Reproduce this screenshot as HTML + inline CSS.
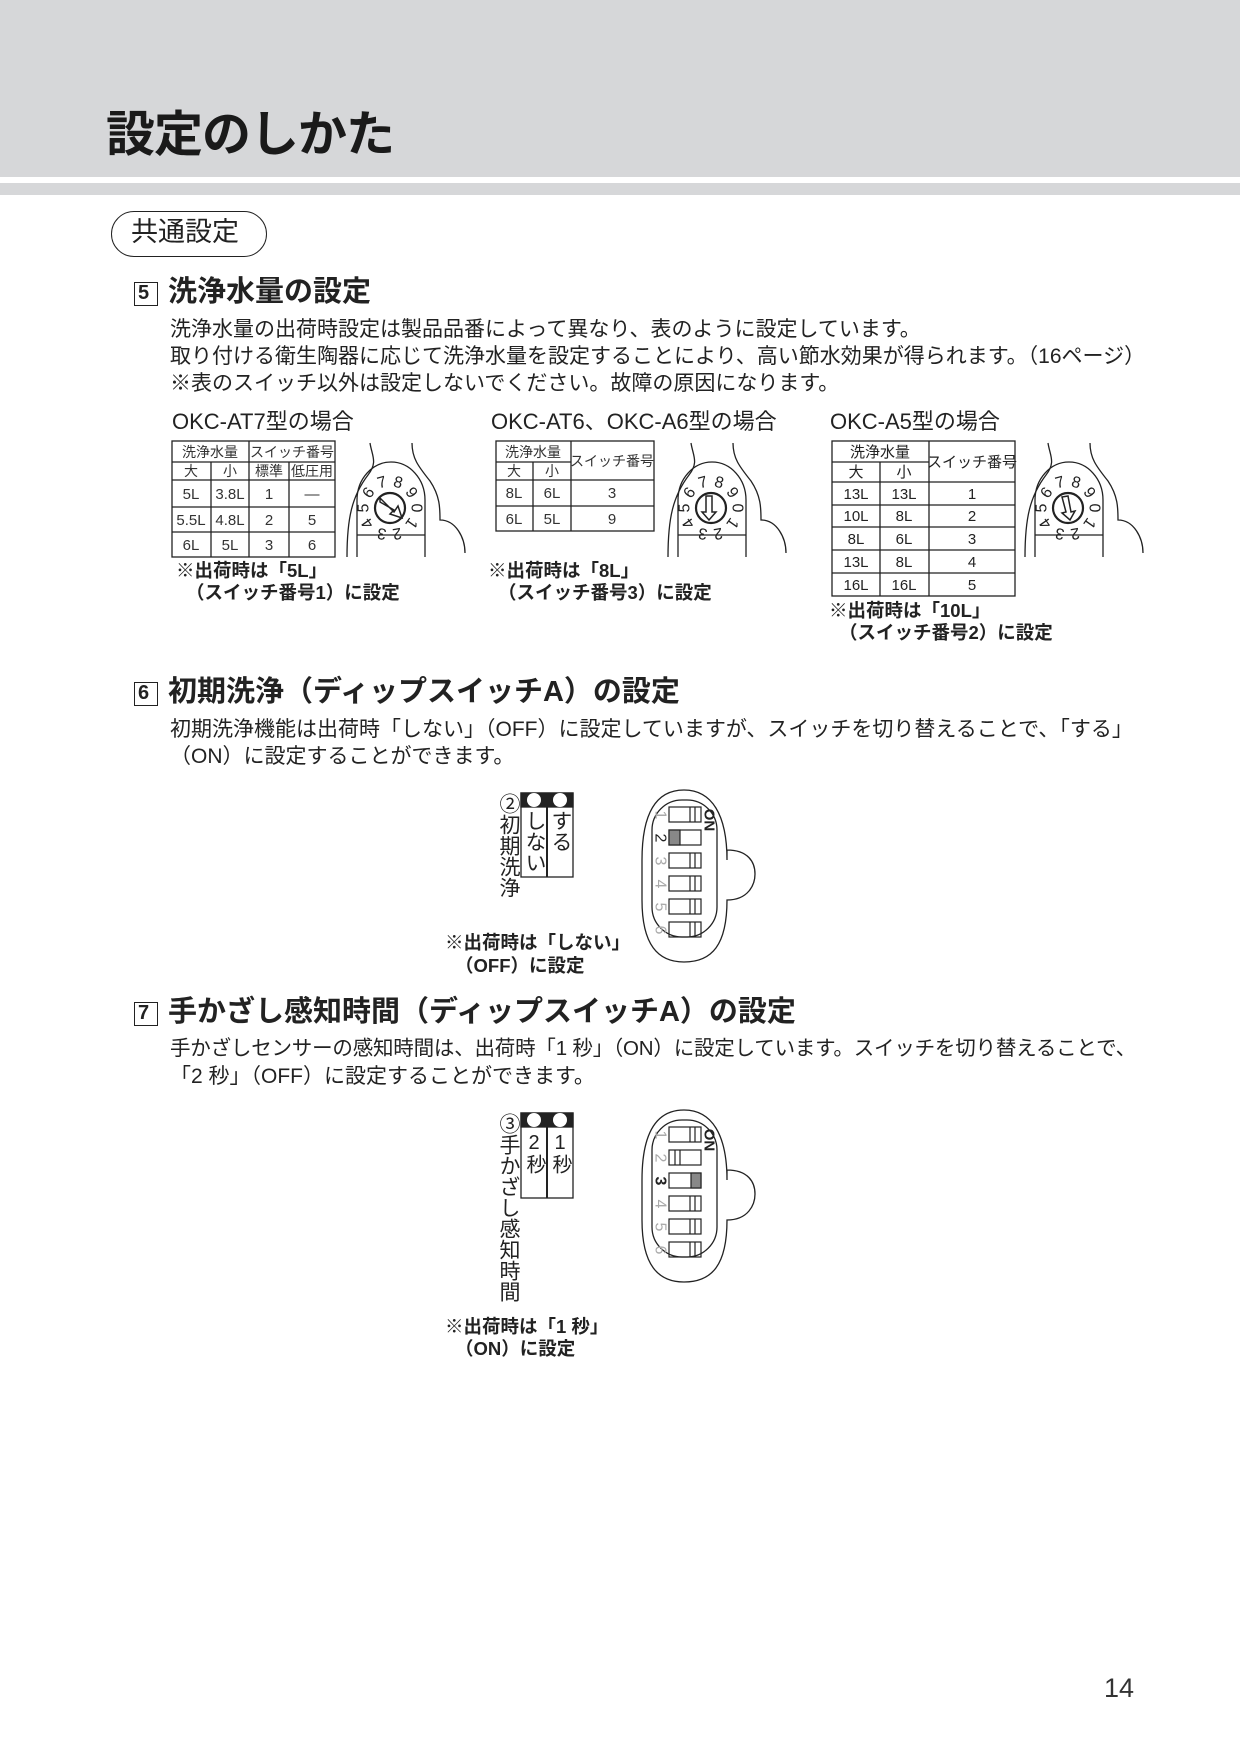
<!DOCTYPE html>
<html><head><meta charset="utf-8"><style>
body{margin:0;width:1240px;height:1754px;position:relative;background:#fff;font-family:"Liberation Sans","Noto Sans CJK JP",sans-serif;color:#222;overflow:hidden}
.a{position:absolute;white-space:nowrap;line-height:1}
.v{writing-mode:vertical-rl;text-orientation:upright}
svg{position:absolute;left:0;top:0}
</style></head><body>
<div style="position:absolute;left:0;top:0;width:1240px;height:177px;background:#d6d7d9"></div>
<div style="position:absolute;left:0;top:183px;width:1240px;height:12px;background:#d6d7d9"></div>
<div class="a" style="left:106px;top:111px;font-size:49px;font-weight:bold;color:#1a1a1a;letter-spacing:-1px">設定のしかた</div>

<div style="position:absolute;left:111px;top:211px;width:154px;height:44px;border:1.5px solid #222;border-radius:23px"></div>
<div class="a" style="left:131px;top:219px;font-size:27px">共通設定</div>

<!-- section 5 -->
<div style="position:absolute;left:134px;top:282px;width:22px;height:22px;border:1.5px solid #222"></div>
<div class="a" style="left:138px;top:283px;font-size:20px;font-weight:bold">5</div>
<div class="a" style="left:168px;top:278px;font-size:29px;font-weight:bold">洗浄水量の設定</div>
<div class="a" style="left:170px;top:319px;font-size:21px">洗浄水量の出荷時設定は製品品番によって異なり、表のように設定しています。</div>
<div class="a" style="left:170px;top:346px;font-size:21px">取り付ける衛生陶器に応じて洗浄水量を設定することにより、高い節水効果が得られます。（16ページ）</div>
<div class="a" style="left:170px;top:373px;font-size:21px">※表のスイッチ以外は設定しないでください。故障の原因になります。</div>

<div class="a" style="left:172px;top:411px;font-size:22px">OKC-AT7型の場合</div>
<div class="a" style="left:491px;top:411px;font-size:22px">OKC-AT6、OKC-A6型の場合</div>
<div class="a" style="left:830px;top:411px;font-size:22px">OKC-A5型の場合</div>

<svg width="1240" height="1754" viewBox="0 0 1240 1754" font-family="Liberation Sans, Noto Sans CJK JP, sans-serif" fill="none" stroke="#222" stroke-width="1.3">
<!-- table1 -->
<rect x="172" y="441" width="163" height="116"/>
<line x1="172" y1="462" x2="335" y2="462"/><line x1="172" y1="480" x2="335" y2="480"/>
<line x1="172" y1="507" x2="335" y2="507"/><line x1="172" y1="532" x2="335" y2="532"/>
<line x1="211" y1="462" x2="211" y2="557"/><line x1="249" y1="441" x2="249" y2="557"/><line x1="289" y1="462" x2="289" y2="557"/>
<g fill="#333" stroke="none" font-size="14" text-anchor="middle">
<text x="210" y="457">洗浄水量</text><text x="292" y="457">スイッチ番号</text>
<text x="191" y="476">大</text><text x="230" y="476">小</text><text x="269" y="476">標準</text><text x="312" y="476">低圧用</text>
<g font-size="15"><text x="191" y="499">5L</text><text x="230" y="499">3.8L</text><text x="269" y="499">1</text><text x="312" y="499">―</text>
<text x="191" y="525">5.5L</text><text x="230" y="525">4.8L</text><text x="269" y="525">2</text><text x="312" y="525">5</text>
<text x="191" y="550">6L</text><text x="230" y="550">5L</text><text x="269" y="550">3</text><text x="312" y="550">6</text></g>
</g>
<!-- table2 -->
<rect x="496" y="441" width="158" height="90"/>
<line x1="496" y1="462" x2="571" y2="462"/><line x1="496" y1="480" x2="654" y2="480"/><line x1="496" y1="506" x2="654" y2="506"/>
<line x1="533" y1="462" x2="533" y2="531"/><line x1="571" y1="441" x2="571" y2="531"/>
<g fill="#333" stroke="none" font-size="14" text-anchor="middle">
<text x="533" y="457">洗浄水量</text><text x="612" y="466">スイッチ番号</text>
<text x="514" y="476">大</text><text x="552" y="476">小</text>
<g font-size="15"><text x="514" y="498">8L</text><text x="552" y="498">6L</text><text x="612" y="498">3</text>
<text x="514" y="524">6L</text><text x="552" y="524">5L</text><text x="612" y="524">9</text></g>
</g>
<!-- table3 -->
<rect x="832" y="441" width="183" height="155"/>
<line x1="832" y1="462" x2="929" y2="462"/><line x1="832" y1="482" x2="1015" y2="482"/>
<line x1="832" y1="505" x2="1015" y2="505"/><line x1="832" y1="527" x2="1015" y2="527"/>
<line x1="832" y1="550" x2="1015" y2="550"/><line x1="832" y1="573" x2="1015" y2="573"/>
<line x1="880" y1="462" x2="880" y2="596"/><line x1="929" y1="441" x2="929" y2="596"/>
<g fill="#222" stroke="none" font-size="15" text-anchor="middle">
<text x="880" y="457">洗浄水量</text><text x="972" y="467">スイッチ番号</text>
<text x="856" y="477">大</text><text x="904" y="477">小</text>
<text x="856" y="499">13L</text><text x="904" y="499">13L</text><text x="972" y="499">1</text>
<text x="856" y="521">10L</text><text x="904" y="521">8L</text><text x="972" y="521">2</text>
<text x="856" y="544">8L</text><text x="904" y="544">6L</text><text x="972" y="544">3</text>
<text x="856" y="567">13L</text><text x="904" y="567">8L</text><text x="972" y="567">4</text>
<text x="856" y="590">16L</text><text x="904" y="590">16L</text><text x="972" y="590">5</text>
</g>
<defs>
<g id="dial">
<path d="M-20,-65 C-18,-52 -12,-46 -22,-33 C-38,-12 -43,10 -43,49"/>
<path d="M22,-65 C22,-50 28,-42 40,-27 C50,-12 50,0 50,12 C66,12 75,30 75,45"/>
<path d="M-33,49 L-33,-8 A34,38 0 0 1 35,-8 L35,49 M-33,27 L35,27"/>
<circle cx="0" cy="0" r="15" stroke-width="2.2"/>
<g fill="#222" stroke="none" font-size="16" text-anchor="middle" dominant-baseline="central">
<text transform="translate(-8,-25) rotate(-15)">7</text>
<text transform="translate(8,-25) rotate(15)">8</text>
<text transform="translate(21,-15) rotate(55)">9</text>
<text transform="translate(26,0) rotate(90)">0</text>
<text transform="translate(21,15) rotate(125)">1</text>
<text transform="translate(7,25) rotate(170)">2</text>
<text transform="translate(-8,25) rotate(190)">3</text>
<text transform="translate(-22,15) rotate(235)">4</text>
<text transform="translate(-26,0) rotate(270)">5</text>
<text transform="translate(-21,-15) rotate(305)">6</text>
</g>
</g>
</defs>
<use href="#dial" x="390" y="508"/>
<use href="#dial" x="711" y="508"/>
<use href="#dial" x="1068" y="508"/>
<path d="M380,498 L394,512 L398,506 L402,518 L390,514 L394,510 L380,502Z" stroke-width="1.5"/>
<path d="M706,496 L712,496 L712,512 L716,512 L709,520 L702,512 L706,512Z" stroke-width="1.5"/>
<path d="M1062,497 L1068,496 L1071,512 L1075,511 L1070,520 L1062,513 L1066,512Z" stroke-width="1.5"/>

<!-- DIP 6 -->
<g id="dipbase">
<path d="M684,790 C655,790 642,815 642,860 L642,900 C642,945 658,962 684,962 C712,962 727,945 727,900 C748,900 755,885 755,874 C755,862 748,850 727,850 L727,860 C727,815 712,790 684,790Z"/>
<rect x="652" y="800" width="65" height="137" rx="30"/>
</g>
<g stroke-width="1.2">
<rect x="669" y="807" width="32" height="15"/><line x1="690" y1="807" x2="690" y2="822"/><line x1="695" y1="807" x2="695" y2="822"/>
<rect x="669" y="830" width="32" height="15"/><rect x="669" y="830" width="11" height="15" fill="#888"/>
<rect x="669" y="853" width="32" height="15"/><line x1="690" y1="853" x2="690" y2="868"/><line x1="695" y1="853" x2="695" y2="868"/>
<rect x="669" y="876" width="32" height="15"/><line x1="690" y1="876" x2="690" y2="891"/><line x1="695" y1="876" x2="695" y2="891"/>
<rect x="669" y="899" width="32" height="15"/><line x1="690" y1="899" x2="690" y2="914"/><line x1="695" y1="899" x2="695" y2="914"/>
<rect x="669" y="922" width="32" height="15"/><line x1="690" y1="922" x2="690" y2="937"/><line x1="695" y1="922" x2="695" y2="937"/>
</g>
<g stroke="none" font-size="16" text-anchor="middle" dominant-baseline="central">
<text transform="translate(660,815) rotate(90)" fill="#aaa">1</text>
<text transform="translate(660,838) rotate(90)" fill="#222">2</text>
<text transform="translate(660,861) rotate(90)" fill="#aaa">3</text>
<text transform="translate(660,884) rotate(90)" fill="#aaa">4</text>
<text transform="translate(660,907) rotate(90)" fill="#aaa">5</text>
<text transform="translate(660,930) rotate(90)" fill="#aaa">6</text>
<text transform="translate(709,820) rotate(90)" fill="#222" font-size="15" font-weight="bold">ON</text>
</g>
<!-- label box 6 -->
<rect x="521" y="793" width="52" height="84"/><line x1="547" y1="793" x2="547" y2="877" stroke-width="2"/>
<rect x="521" y="793" width="52" height="14" fill="#222"/>
<ellipse cx="534" cy="800" rx="7" ry="7" fill="#fff" stroke="none"/><ellipse cx="560" cy="800" rx="7" ry="7" fill="#fff" stroke="none"/>

<!-- DIP 7 -->
<use href="#dipbase" x="0" y="320"/>
<g stroke-width="1.2">
<rect x="669" y="1127" width="32" height="15"/><line x1="690" y1="1127" x2="690" y2="1142"/><line x1="695" y1="1127" x2="695" y2="1142"/>
<rect x="669" y="1150" width="32" height="15"/><line x1="675" y1="1150" x2="675" y2="1165"/><line x1="680" y1="1150" x2="680" y2="1165"/>
<rect x="669" y="1173" width="32" height="15"/><rect x="691" y="1173" width="10" height="15" fill="#888"/>
<rect x="669" y="1196" width="32" height="15"/><line x1="690" y1="1196" x2="690" y2="1211"/><line x1="695" y1="1196" x2="695" y2="1211"/>
<rect x="669" y="1219" width="32" height="15"/><line x1="690" y1="1219" x2="690" y2="1234"/><line x1="695" y1="1219" x2="695" y2="1234"/>
<rect x="669" y="1242" width="32" height="15"/><line x1="690" y1="1242" x2="690" y2="1257"/><line x1="695" y1="1242" x2="695" y2="1257"/>
</g>
<g stroke="none" font-size="16" text-anchor="middle" dominant-baseline="central">
<text transform="translate(660,1135) rotate(90)" fill="#aaa">1</text>
<text transform="translate(660,1158) rotate(90)" fill="#aaa">2</text>
<text transform="translate(660,1181) rotate(90)" fill="#222" font-weight="bold">3</text>
<text transform="translate(660,1204) rotate(90)" fill="#aaa">4</text>
<text transform="translate(660,1227) rotate(90)" fill="#aaa">5</text>
<text transform="translate(660,1250) rotate(90)" fill="#aaa">6</text>
<text transform="translate(709,1140) rotate(90)" fill="#222" font-size="15" font-weight="bold">ON</text>
</g>
<rect x="521" y="1113" width="52" height="85"/><line x1="547" y1="1113" x2="547" y2="1198" stroke-width="2"/>
<rect x="521" y="1113" width="52" height="14" fill="#222"/>
<ellipse cx="534" cy="1120" rx="7" ry="7" fill="#fff" stroke="none"/><ellipse cx="560" cy="1120" rx="7" ry="7" fill="#fff" stroke="none"/>
</svg>

<div class="a" style="left:176px;top:562px;font-size:18.5px;font-weight:bold">※出荷時は「5L」</div>
<div class="a" style="left:186px;top:584px;font-size:18.5px;font-weight:bold">（スイッチ番号1）に設定</div>
<div class="a" style="left:488px;top:562px;font-size:18.5px;font-weight:bold">※出荷時は「8L」</div>
<div class="a" style="left:498px;top:584px;font-size:18.5px;font-weight:bold">（スイッチ番号3）に設定</div>
<div class="a" style="left:829px;top:602px;font-size:18.5px;font-weight:bold">※出荷時は「10L」</div>
<div class="a" style="left:839px;top:624px;font-size:18.5px;font-weight:bold">（スイッチ番号2）に設定</div>

<!-- section 6 -->
<div style="position:absolute;left:134px;top:682px;width:22px;height:22px;border:1.5px solid #222"></div>
<div class="a" style="left:138px;top:683px;font-size:20px;font-weight:bold">6</div>
<div class="a" style="left:168px;top:678px;font-size:29px;font-weight:bold">初期洗浄（ディップスイッチA）の設定</div>
<div class="a" style="left:170px;top:719px;font-size:21px">初期洗浄機能は出荷時「しない」（OFF）に設定していますが、スイッチを切り替えることで、「する」</div>
<div class="a" style="left:170px;top:746px;font-size:21px">（ON）に設定することができます。</div>
<div class="a v" style="left:497px;top:793px;font-size:21px;line-height:22px">②初期洗浄</div>
<div class="a v" style="left:523px;top:810px;font-size:21px;line-height:22px">しない</div>
<div class="a v" style="left:549px;top:810px;font-size:21px;line-height:22px">する</div>
<div class="a" style="left:445px;top:934px;font-size:18.5px;font-weight:bold">※出荷時は「しない」</div>
<div class="a" style="left:455px;top:957px;font-size:18.5px;font-weight:bold">（OFF）に設定</div>

<!-- section 7 -->
<div style="position:absolute;left:134px;top:1002px;width:22px;height:22px;border:1.5px solid #222"></div>
<div class="a" style="left:138px;top:1003px;font-size:20px;font-weight:bold">7</div>
<div class="a" style="left:168px;top:998px;font-size:29px;font-weight:bold">手かざし感知時間（ディップスイッチA）の設定</div>
<div class="a" style="left:170px;top:1039px;font-size:20.5px;letter-spacing:-0.2px">手かざしセンサーの感知時間は、出荷時「1 秒」（ON）に設定しています。スイッチを切り替えることで、</div>
<div class="a" style="left:170px;top:1066px;font-size:21px">「2 秒」（OFF）に設定することができます。</div>
<div class="a v" style="left:497px;top:1113px;font-size:21px;line-height:22px">③手かざし感知時間</div>
<div class="a v" style="left:523px;top:1132px;font-size:20px;line-height:22px">2秒</div>
<div class="a v" style="left:549px;top:1132px;font-size:20px;line-height:22px">1秒</div>
<div class="a" style="left:445px;top:1318px;font-size:18.5px;font-weight:bold">※出荷時は「1 秒」</div>
<div class="a" style="left:455px;top:1340px;font-size:18.5px;font-weight:bold">（ON）に設定</div>

<div class="a" style="left:1104px;top:1675px;font-size:27px;color:#333">14</div>
</body></html>
